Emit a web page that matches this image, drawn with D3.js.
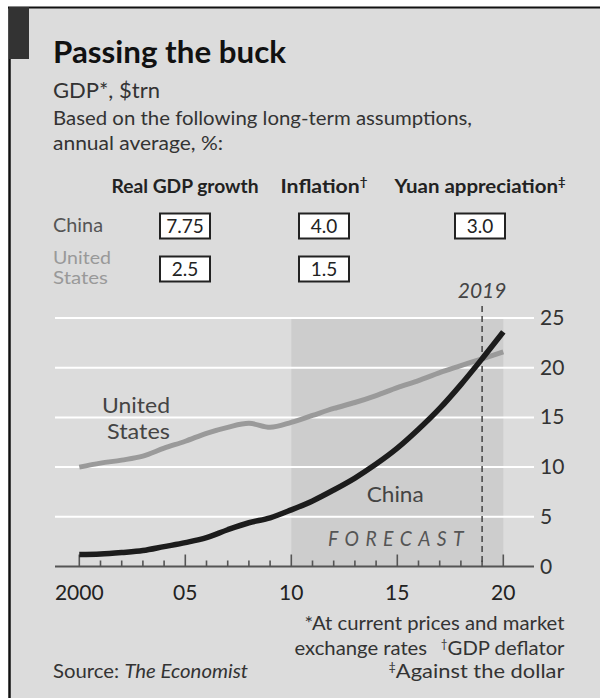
<!DOCTYPE html>
<html><head><meta charset="utf-8">
<script src="https://cdn.jsdelivr.net/npm/d3@7"></script>
<style>body{margin:0;background:#fff}svg{display:block}text{font-family:Lato,"Open Sans",sans-serif}</style>
</head><body><svg id="c" width="600" height="698"></svg>
<script>
const years = [2000,2001,2002,2003,2004,2005,2006,2007,2008,2009,2010,2011,2012,2013,2014,2015,2016,2017,2018,2019,2020];
const usGDP =    [10.0,10.4,10.7,11.1,11.9,12.6,13.4,14.0,14.4,14.0,14.5,15.2,15.9,16.5,17.2,18.0,18.7,19.5,20.2,20.9,21.6];
const chinaGDP = [1.2,1.25,1.4,1.6,2.0,2.4,2.9,3.7,4.4,4.9,5.7,6.6,7.7,8.9,10.3,11.9,13.8,15.9,18.3,20.9,23.6];
const yTicks = [0,5,10,15,20,25];
const xTickLabels = ["2000","05","10","15","20"];
const xLabelYears = [2000,2005,2010,2015,2020];
const assumptionHeaders = ["Real GDP growth","Inflation","Yuan appreciation"];
const headerMarks = ["","†","‡"];
const countries = ["China","United States"];
const chinaAssumptions = ["7.75","4.0","3.0"];
const usAssumptions = ["2.5","1.5",null];
const forecastStart = 2010, crossYear = 2019;

const svg = d3.select("#c");
function fit(t, w){ const n=t.node(); const L=n.getComputedTextLength(); if(Math.abs(L-w)/w>0.01){t.attr("textLength",w).attr("lengthAdjust","spacingAndGlyphs");} return t; }

// frame
svg.append("rect").attr("x",9).attr("y",7).attr("width",591).attr("height",691).attr("fill","#dcdcdc");
svg.append("line").attr("x1",8).attr("x2",600).attr("y1",7.5).attr("y2",7.5).attr("stroke","#111").attr("stroke-width",2);
svg.append("line").attr("x1",9.5).attr("x2",9.5).attr("y1",7).attr("y2",698).attr("stroke","#111").attr("stroke-width",2.5);
svg.append("rect").attr("x",9).attr("y",7).attr("width",20).attr("height",52).attr("fill","#333");

// titles
fit(svg.append("text").attr("x",53).attr("y",63).attr("font-size",31).attr("font-weight","bold").attr("fill","#111").text("Passing the buck"),233);
fit(svg.append("text").attr("x",53).attr("y",98).attr("font-size",22).attr("fill","#333").text("GDP*, $trn"),107);
fit(svg.append("text").attr("x",53).attr("y",125).attr("font-size",19.5).attr("fill","#333").text("Based on the following long-term assumptions,"),419);
fit(svg.append("text").attr("x",53).attr("y",150).attr("font-size",19.5).attr("fill","#333").text("annual average, %:"),170);

// assumption table
const colX = d3.scaleOrdinal().domain(assumptionHeaders).range([185,324,480]);
const headerW = [147,87,171];
assumptionHeaders.forEach((h,i)=>{
  const t = svg.append("text").attr("x",colX(h)).attr("y",193).attr("text-anchor","middle").attr("font-size",19).attr("font-weight","bold").attr("fill","#222");
  t.append("tspan").text(h);
  if(headerMarks[i]) t.append("tspan").attr("font-size",12).attr("dy",-7).text(headerMarks[i]);
  fit(t,headerW[i]);
});
const rowY = d3.scaleOrdinal().domain(countries).range([213.5,256.5]);
fit(svg.append("text").attr("x",53).attr("y",232).attr("font-size",19).attr("fill","#555").text("China"),50);
fit(svg.append("text").attr("x",53).attr("y",264).attr("font-size",16.5).attr("fill","#999").text("United"),58);
fit(svg.append("text").attr("x",53).attr("y",284).attr("font-size",16.5).attr("fill","#999").text("States"),55);
[chinaAssumptions,usAssumptions].forEach((vals,r)=>{
  vals.forEach((v,i)=>{
    if(v===null) return;
    const cx = colX(assumptionHeaders[i]), y0 = rowY(countries[r]);
    svg.append("rect").attr("x",cx-25).attr("y",y0).attr("width",50).attr("height",25).attr("fill","#fff").attr("stroke","#222").attr("stroke-width",2);
    svg.append("text").attr("x",cx).attr("y",y0+19).attr("text-anchor","middle").attr("font-size",19).attr("fill","#222").text(v);
  });
});

// chart
const x = d3.scaleLinear().domain([2000,2020]).range([79.3,503.3]);
const y = d3.scaleLinear().domain([0,25]).range([566.5,318]);
svg.append("rect").attr("x",x(forecastStart)).attr("y",y(25)+1).attr("width",x(2020)-x(forecastStart)).attr("height",y(0)-y(25)-1).attr("fill","#cdcdcd");
yTicks.filter(d=>d>0).forEach(d=>{
  svg.append("line").attr("x1",55).attr("x2",534).attr("y1",y(d)).attr("y2",y(d)).attr("stroke","#fff").attr("stroke-width",2);
});
yTicks.forEach(d=>{
  svg.append("text").attr("x",540).attr("y",y(d)+7).attr("font-size",21).attr("fill","#333").text(d);
});
svg.append("line").attr("x1",55).attr("x2",534).attr("y1",y(0)).attr("y2",y(0)).attr("stroke","#555").attr("stroke-width",2);
d3.range(2000,2021).forEach(yr=>{
  const major = yr%5===0;
  svg.append("line").attr("x1",x(yr)).attr("x2",x(yr)).attr("y1",y(0)).attr("y2",y(0)-(major?12:6)).attr("stroke","#555").attr("stroke-width",1.6);
});
xLabelYears.forEach((yr,i)=>{
  svg.append("text").attr("x",x(yr)).attr("y",600).attr("text-anchor","middle").attr("font-size",21).attr("fill","#222").text(xTickLabels[i]);
});
// dashed 2019
svg.append("line").attr("x1",x(crossYear)).attr("x2",x(crossYear)).attr("y1",306).attr("y2",y(0)).attr("stroke","#444").attr("stroke-width",1.5).attr("stroke-dasharray","6,4");
svg.append("text").attr("x",x(crossYear)).attr("y",298).attr("text-anchor","middle").attr("font-size",21).attr("font-style","italic").attr("fill","#444").text(String(crossYear));
fit(svg.append("text").attr("x",328).attr("y",546).attr("font-size",21).attr("font-style","italic").attr("fill","#555").attr("letter-spacing",7).text("FORECAST"),142);

const line = d3.line().x((d,i)=>x(years[i])).y(d=>y(d)).curve(d3.curveMonotoneX);
svg.append("path").datum(usGDP).attr("d",line).attr("fill","none").attr("stroke","#9a9a9a").attr("stroke-width",5);
svg.append("path").datum(chinaGDP).attr("d",line).attr("fill","none").attr("stroke","#1c1c1c").attr("stroke-width",5.5);

fit(svg.append("text").attr("x",366.7).attr("y",501.7).attr("font-size",22).attr("fill","#444").text("China"),57);
fit(svg.append("text").attr("x",170).attr("y",413).attr("text-anchor","end").attr("font-size",22).attr("fill","#444").text("United"),68);
fit(svg.append("text").attr("x",170).attr("y",439).attr("text-anchor","end").attr("font-size",22).attr("fill","#444").text("States"),63);

// footnotes
fit(svg.append("text").attr("x",564.5).attr("y",630).attr("text-anchor","end").attr("font-size",19).attr("fill","#333").text("*At current prices and market"),260);
const f2 = svg.append("text").attr("x",564.5).attr("y",655).attr("text-anchor","end").attr("font-size",19).attr("fill","#333");
f2.append("tspan").text("exchange rates ");
f2.append("tspan").attr("font-size",11).attr("dy",-7).attr("dx",8).text("†");
f2.append("tspan").attr("dy",7).text("GDP deflator");
fit(f2,270);
const f3 = svg.append("text").attr("x",564.5).attr("y",678).attr("text-anchor","end").attr("font-size",19).attr("fill","#333");
f3.append("tspan").attr("font-size",11).attr("dy",-7).text("‡");
f3.append("tspan").attr("dy",7).text("Against the dollar");
fit(f3,176);
const src = svg.append("text").attr("x",53).attr("y",678).attr("font-size",19).attr("fill","#333");
src.append("tspan").text("Source: ");
src.append("tspan").attr("font-style","italic").text("The Economist");
fit(src,195);
</script></body></html>
